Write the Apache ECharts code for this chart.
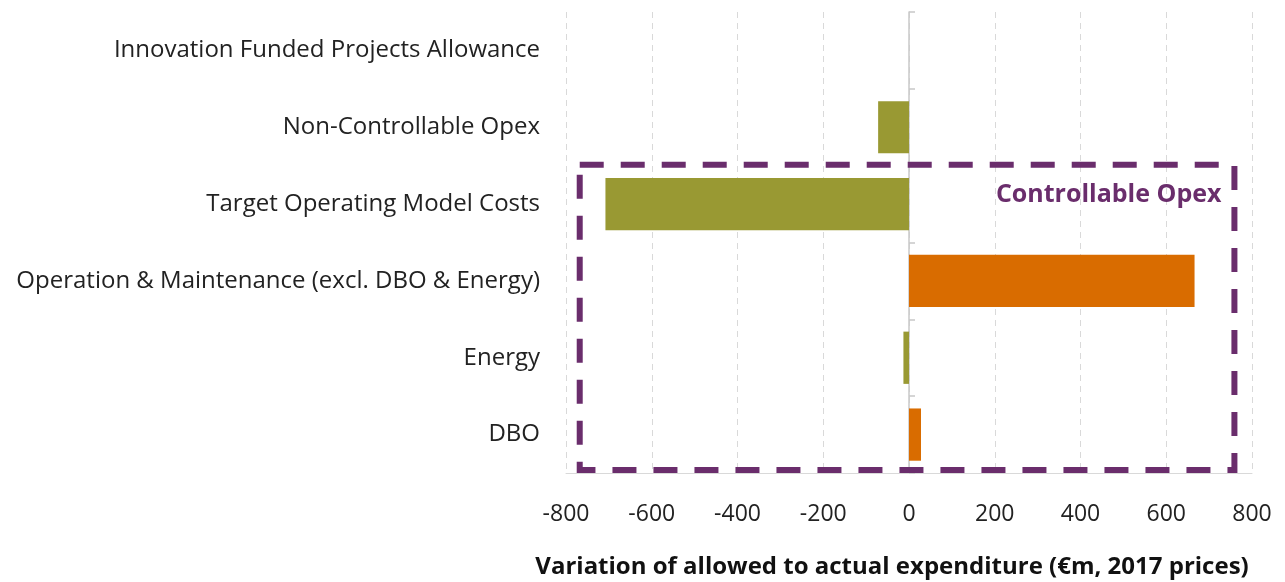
<!DOCTYPE html>
<html>
<head>
<meta charset="utf-8">
<script src="https://cdn.jsdelivr.net/npm/echarts@6/dist/echarts.min.js"></script>
<style>
  html, body { margin: 0; padding: 0; background: #ffffff; }
  #chart { width: 1285px; height: 582px; }
</style>
</head>
<body>
<div id="chart"></div>
<script>
// Cost categories, top to bottom
const categories = [
  'Innovation Funded Projects Allowance',
  'Non-Controllable Opex',
  'Target Operating Model Costs',
  'Operation & Maintenance (excl. DBO & Energy)',
  'Energy',
  'DBO'
];
// Variation of allowed to actual expenditure (€m, 2017 prices)
const variation = [0, -72, -708, 666, -13, 28];
// Value axis ticks
const xTicks = [-800, -600, -400, -200, 0, 200, 400, 600, 800];
// Categories enclosed by the controllable opex box
const controllable = ['Target Operating Model Costs', 'Operation & Maintenance (excl. DBO & Energy)', 'Energy', 'DBO'];

const OLIVE = '#999933';
const ORANGE = '#D96C00';
const PURPLE = '#6A2D6C';
const FONT = '"Open Sans", "Noto Sans", sans-serif';

const chart = echarts.init(document.getElementById('chart'), null, { renderer: 'canvas' });

const option = {
  animation: false,
  backgroundColor: '#ffffff',
  textStyle: { fontFamily: FONT },
  title: {
    text: 'Variation of allowed to actual expenditure (€m, 2017 prices)',
    left: 887,
    top: 550,
    textAlign: 'center',
    textStyle: { fontFamily: FONT, fontSize: 24, fontWeight: 'bold', color: '#111111' }
  },
  grid: { left: 566, right: 33, top: 12, bottom: 109, containLabel: false },
  xAxis: {
    type: 'value',
    min: xTicks[0],
    max: xTicks[xTicks.length - 1],
    interval: 200,
    axisLine: { show: true, lineStyle: { color: '#D9D9D9', width: 1 } },
    axisTick: { show: false },
    axisLabel: { fontSize: 23, color: '#222222', margin: 30, fontFamily: FONT },
    splitLine: { show: true, lineStyle: { color: '#D9D9D9', type: [6, 5], width: 1 } }
  },
  yAxis: {
    type: 'category',
    data: categories,
    inverse: true,
    axisLine: { show: true, onZero: true, lineStyle: { color: '#C8C8C8', width: 1.5 } },
    axisTick: { show: true, inside: true, length: 6, lineStyle: { color: '#C8C8C8', width: 1.5 } },
    axisLabel: { fontSize: 24, color: '#222222', margin: 26, fontFamily: FONT },
    splitLine: { show: false }
  },
  series: [{
    type: 'bar',
    data: variation,
    barCategoryGap: '32%',
    itemStyle: {
      color: function (p) { return p.value < 0 ? OLIVE : ORANGE; }
    }
  }]
};

chart.setOption(option);

// Dashed box around the controllable opex rows, placed from axis coordinates
function drawBox() {
  const firstIdx = categories.indexOf(controllable[0]);
  const lastIdx = categories.indexOf(controllable[controllable.length - 1]);
  const yFirst = chart.convertToPixel({ yAxisIndex: 0 }, firstIdx);
  const yNext = chart.convertToPixel({ yAxisIndex: 0 }, firstIdx + 1);
  const band = yNext - yFirst;
  const yLast = chart.convertToPixel({ yAxisIndex: 0 }, lastIdx);
  const x0 = chart.convertToPixel({ xAxisIndex: 0 }, -768);
  const x1 = chart.convertToPixel({ xAxisIndex: 0 }, 759);
  const top = yFirst - band / 2 - 1;
  const bottom = yLast + band / 2 - 3;
  chart.setOption({
    graphic: [
      {
        type: 'rect',
        shape: { x: x0, y: top, width: x1 - x0, height: bottom - top },
        style: { fill: 'none', stroke: PURPLE, lineWidth: 6, lineDash: [24, 17] },
        z: 10
      },
      {
        type: 'text',
        x: x1 - 13,
        y: top + 30,
        style: {
          text: 'Controllable Opex',
          fill: PURPLE,
          font: 'bold 25px ' + FONT,
          textAlign: 'right',
          textVerticalAlign: 'middle'
        },
        z: 11
      }
    ]
  });
}
drawBox();
</script>
</body>
</html>
